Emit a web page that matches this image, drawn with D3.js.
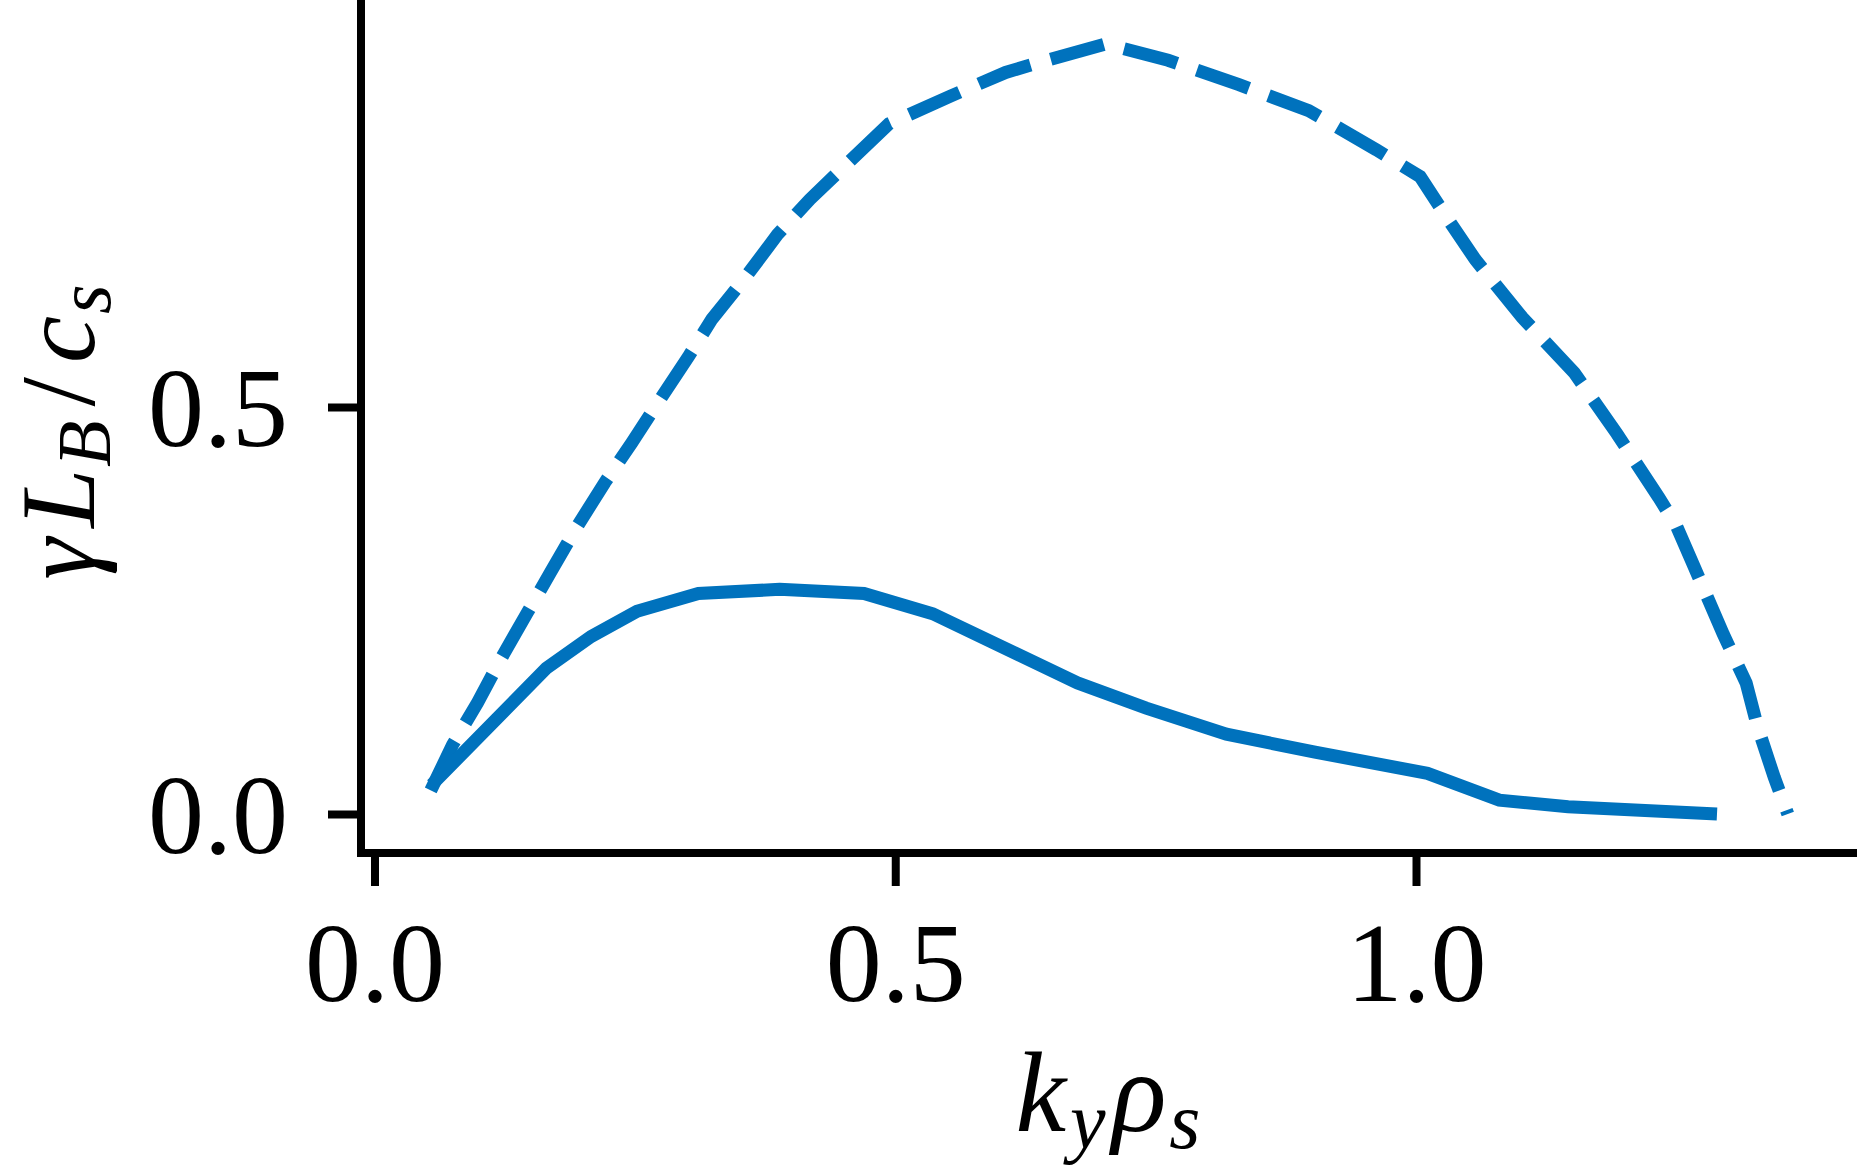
<!DOCTYPE html>
<html>
<head>
<meta charset="utf-8">
<script src="https://cdn.jsdelivr.net/npm/d3@7"></script>
<style>
  body { margin: 0; background: #fff; }
  svg { display: block; }
</style>
</head>
<body>
<div id="chart"></div>
<script>
// growth rate vs k_y rho_s, two cases (solid and dashed)
var solidK     = [0.055, 0.165, 0.208, 0.252, 0.311, 0.389, 0.470, 0.536, 0.675, 0.741, 0.818, 0.903, 1.011, 1.080, 1.146, 1.289];
var solidGamma = [0.036, 0.179, 0.218, 0.249, 0.271, 0.276, 0.271, 0.246, 0.161, 0.130, 0.098, 0.076, 0.050, 0.017, 0.009, 0.000];

var dashK     = [0.054, 0.075, 0.099, 0.122, 0.147, 0.170, 0.194, 0.221, 0.247, 0.273, 0.301, 0.324, 0.356, 0.387, 0.418, 0.453, 0.494, 0.553, 0.606, 0.643, 0.702, 0.762, 0.830, 0.897, 0.962, 1.004, 1.029, 1.057, 1.102, 1.152, 1.193, 1.233, 1.250, 1.266, 1.295, 1.317, 1.328, 1.344, 1.357];
var dashGamma = [0.029, 0.085, 0.137, 0.192, 0.248, 0.299, 0.352, 0.407, 0.456, 0.507, 0.561, 0.608, 0.659, 0.712, 0.755, 0.798, 0.848, 0.882, 0.911, 0.925, 0.946, 0.926, 0.896, 0.864, 0.816, 0.783, 0.734, 0.681, 0.610, 0.542, 0.467, 0.389, 0.354, 0.307, 0.221, 0.161, 0.107, 0.045, 0.000];

var xTicks = [0, 0.5, 1.0];
var yTicks = [0, 0.5];

var width = 1857, height = 1171;
var blue = "#0072bd";

var svg = d3.select("#chart").append("svg")
    .attr("width", width)
    .attr("height", height);

svg.append("rect").attr("width", width).attr("height", height).attr("fill", "#fff");

var x = d3.scaleLinear().domain([0, 1]).range([374.5, 1416]);
var y = d3.scaleLinear().domain([0, 0.5]).range([814, 407]);

var xAxisY = 853, yAxisX = 361;

var line = d3.line()
    .x(function(d) { return x(d[0]); })
    .y(function(d) { return y(d[1]); });

var solid = d3.zip(solidK, solidGamma);
var dashed = d3.zip(dashK, dashGamma);

svg.append("path")
    .datum(dashed)
    .attr("d", line)
    .attr("fill", "none")
    .attr("stroke", blue)
    .attr("stroke-width", 13)
    .attr("stroke-dasharray", "55,21")
    .attr("stroke-linejoin", "miter");

svg.append("path")
    .datum(solid)
    .attr("d", line)
    .attr("fill", "none")
    .attr("stroke", blue)
    .attr("stroke-width", 13)
    .attr("stroke-linejoin", "miter");

// axes
var fmt = d3.format(".1f");
var tickFont = "'Liberation Serif', 'DejaVu Serif', serif";

var yAxis = svg.append("g")
    .attr("transform", "translate(" + yAxisX + ",0)")
    .call(d3.axisLeft(y).tickValues(yTicks).tickFormat(fmt).tickSize(33).tickPadding(40));

var xAxis = svg.append("g")
    .attr("transform", "translate(0," + xAxisY + ")")
    .call(d3.axisBottom(x).tickValues(xTicks).tickFormat(fmt).tickSize(33));

[xAxis, yAxis].forEach(function(g) {
    g.select(".domain").remove();
    g.selectAll(".tick line").attr("stroke", "#000").attr("stroke-width", 8);
    g.selectAll(".tick text")
        .attr("fill", "#000")
        .style("font-family", tickFont)
        .style("font-size", "112px");
});
xAxis.selectAll(".tick text").attr("y", 148).attr("dy", 0);
yAxis.selectAll(".tick text").attr("dy", "0.34em");

// spines
svg.append("line")
    .attr("x1", yAxisX).attr("x2", yAxisX)
    .attr("y1", y(1.0)).attr("y2", xAxisY + 4)
    .attr("stroke", "#000").attr("stroke-width", 8);
svg.append("line")
    .attr("x1", yAxisX - 4).attr("x2", width)
    .attr("y1", xAxisY).attr("y2", xAxisY)
    .attr("stroke", "#000").attr("stroke-width", 8);

// axis labels
var xl = svg.append("text")
    .attr("x", 1108).attr("y", 1131)
    .attr("text-anchor", "middle")
    .style("font-family", tickFont)
    .style("font-style", "italic")
    .style("font-size", "114px");
xl.append("tspan").text("k");
xl.append("tspan").attr("dy", 17).attr("dx", 4).style("font-size", "80px").text("y");
xl.append("tspan").attr("dy", -17).attr("dx", 6).text("ρ");
xl.append("tspan").attr("dy", 17).attr("dx", 3).style("font-size", "80px").text("s");

var yl = svg.append("text")
    .attr("transform", "translate(94,432) rotate(-90)")
    .attr("text-anchor", "middle")
    .style("font-family", tickFont)
    .style("font-style", "italic")
    .style("font-size", "106px");
yl.append("tspan").text("γ");
yl.append("tspan").attr("dx", 10).text("L");
yl.append("tspan").attr("dy", 16).attr("dx", 2).style("font-size", "76px").text("B");
yl.append("tspan").attr("dy", -16).attr("dx", 14).style("font-style", "normal").text("/");
yl.append("tspan").attr("dx", 14).text("c");
yl.append("tspan").attr("dy", 16).attr("dx", 2).style("font-size", "76px").text("s");
</script>
</body>
</html>
